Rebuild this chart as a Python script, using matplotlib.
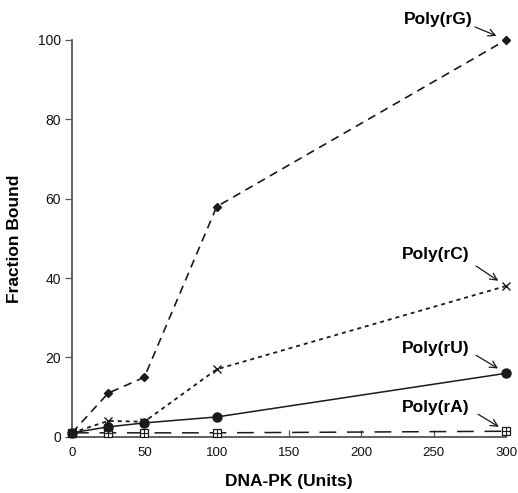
import matplotlib.pyplot as plt

units = [0, 25, 50, 100, 300]
poly_rG = [1, 11, 15, 58, 100]
poly_rC = [1, 4, 3.8, 17, 38]
poly_rU = [1, 2.5, 3.5, 5, 16]
poly_rA = [1, 1, 1, 1, 1.4]
x_ticks = [0, 50, 100, 150, 200, 250, 300]
y_ticks = [0, 20, 40, 60, 80, 100]

plt.rcParams['font.family'] = ['Liberation Sans', 'DejaVu Sans']

fig = plt.figure(figsize=(5.18, 4.93), dpi=100)
ax = fig.add_axes([0.139, 0.114, 0.838, 0.805])

c = '#1a1a1a'
ax.plot(units, poly_rA, color=c, lw=1.1, dashes=(11, 7), marker='s', ms=5.5,
        mfc='white', mec=c, mew=0.9, clip_on=False, zorder=3)
ax.plot(units, poly_rA, ls='none', marker='+', ms=5.5, mec=c, mew=0.8, clip_on=False, zorder=4)
ax.plot(units, poly_rU, color=c, lw=1.1, marker='o', ms=6.5, clip_on=False, zorder=3)
ax.plot(units, poly_rC, color=c, lw=1.3, dashes=(2.2, 2.2), marker='x', ms=6,
        mew=1.0, clip_on=False, zorder=3)
ax.plot(units, poly_rG, color=c, lw=1.2, dashes=(5, 3.5), marker='D', ms=3.8,
        clip_on=False, zorder=3)

ax.set_xlim(0, 300)
ax.set_ylim(0, 100)
ax.set_xticks(x_ticks)
ax.set_yticks(y_ticks)
ax.spines['top'].set_visible(False)
ax.spines['right'].set_visible(False)
for s in ['left', 'bottom']:
    ax.spines[s].set_color('#555555')
    ax.spines[s].set_linewidth(1.3)
ax.tick_params(axis='x', direction='in', length=5, labelsize=9.5, pad=7)
ax.tick_params(axis='y', direction='out', length=5, labelsize=10, pad=3)
ax.tick_params(color='#555555', width=0.9, labelcolor='#111111')

ax.set_xlabel('DNA-PK (Units)', fontsize=12.5, fontweight='bold', labelpad=11)
ax.set_ylabel('Fraction Bound', fontsize=12.5, fontweight='bold', labelpad=11)

# (name, y of point, arrow start offset px, arrow end gap px, text centre offset px)
labels = [('Poly(rG)', poly_rG[-1], (-31, 13), 9, (-68, 20)),
          ('Poly(rC)', poly_rC[-1], (-30, 20), 8, (-70, 31)),
          ('Poly(rU)', poly_rU[-1], (-30, 18), 8, (-70, 25)),
          ('Poly(rA)', poly_rA[-1], (-28, 17), 7, (-70, 24))]
for name, yv, start, gap, toff in labels:
    ax.annotate('', xy=(300, yv), xytext=start, textcoords='offset pixels',
                annotation_clip=False,
                arrowprops=dict(arrowstyle='->,head_length=0.5,head_width=0.25',
                                color=c, lw=0.9, shrinkA=0, shrinkB=gap * 0.72 + 1))
    ax.annotate(name, xy=(300, yv), xytext=toff, textcoords='offset pixels',
                annotation_clip=False, fontsize=12.5, fontweight='bold',
                ha='center', va='center')

fig.savefig('out.png', dpi=100)
